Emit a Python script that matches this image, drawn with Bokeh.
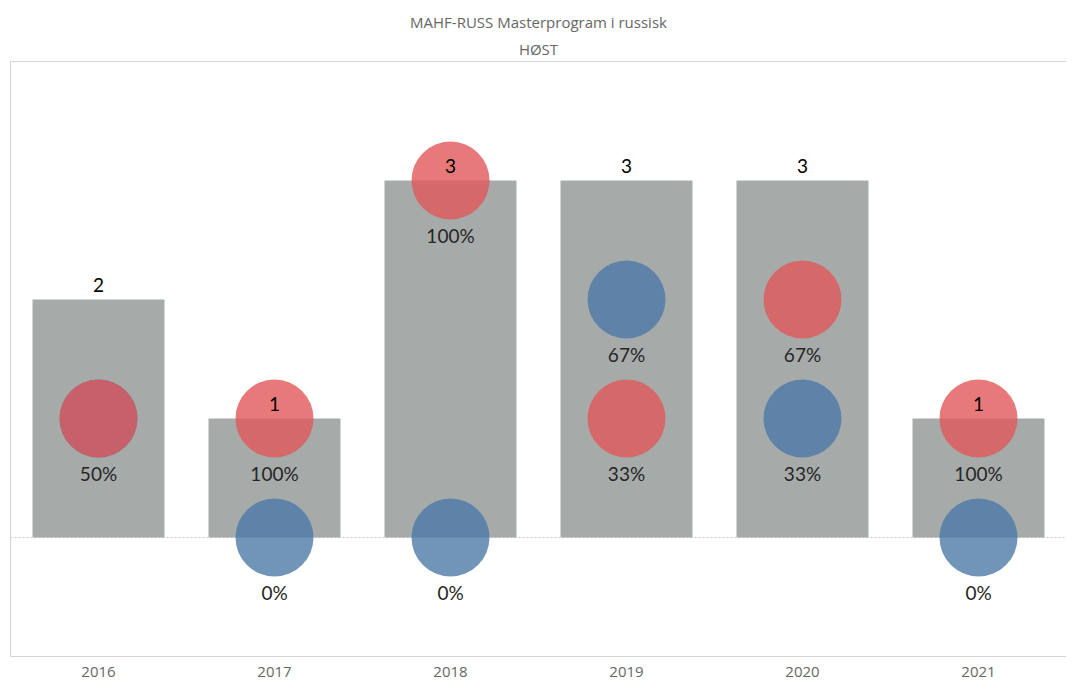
from bokeh.plotting import figure
from bokeh.models import Range1d, Title, LinearAxis, FixedTicker, ColumnDataSource
from bokeh.core.properties import value
from bokeh.embed import file_html
from bokeh.resources import INLINE

# ---- data ----
years = ["2016", "2017", "2018", "2019", "2020", "2021"]
totals = [2, 1, 3, 3, 3, 1]
red_counts = [1, 1, 3, 1, 2, 1]
blue_counts = [1, 0, 0, 2, 1, 0]
title_text = "MAHF-RUSS Masterprogram i russisk"
subtitle_text = "HØST"

red_pct = [f"{round(100 * r / t)}%" for r, t in zip(red_counts, totals)]
# a blue label that sits exactly on the red one is shown once
blue_pct = [("" if b == r else f"{round(100 * b / t)}%")
            for b, r, t in zip(blue_counts, red_counts, totals)]

# category slots: centre of slot i is i + 0.5
xs = [i + 0.5 for i in range(len(years))]

GREY = "#a6abaa"
RED = "#e15759"
BLUE = "#4e79a7"
TXT = "#262626"
NUMFONT = value("Lato")
LINE = "#d4d4d4"

p = figure(x_range=Range1d(0, len(years)), y_range=Range1d(-1, 4), width=1066, height=679,
           output_backend="svg", toolbar_location=None, title=None,
           min_border_left=10, min_border_right=0, min_border_top=61, min_border_bottom=0)
p.outline_line_color = None
p.background_fill_color = "white"
p.border_fill_color = "white"

# left frame line (axis with no ticks)
p.yaxis.visible = False
left = LinearAxis(ticker=FixedTicker(ticks=[]),
                  axis_line_color=LINE, major_tick_line_color=None,
                  minor_tick_line_color=None)
p.add_layout(left, "left")

p.xgrid.visible = False
p.ygrid.ticker = FixedTicker(ticks=[0])
p.ygrid.grid_line_color = "#c4c4c4"
p.ygrid.grid_line_dash = "2 2"

xa = p.xaxis[0]
xa.ticker = FixedTicker(ticks=xs)
xa.major_label_overrides = {x: y for x, y in zip(xs, years)}
xa.axis_line_color = LINE
xa.major_tick_line_color = None
xa.minor_tick_line_color = None
xa.major_label_text_font = "Open Sans"
xa.major_label_text_font_size = "15px"
xa.major_label_text_color = "#666666"
xa.major_label_standoff = 4

top = LinearAxis(ticker=FixedTicker(ticks=[]),
                 axis_line_color=LINE, major_tick_line_color=None,
                 minor_tick_line_color=None)
p.add_layout(top, "above")
p.add_layout(Title(text=subtitle_text, align="center", text_font="Open Sans",
                   text_font_size="15px", text_font_style="normal",
                   text_color="#666666", standoff=6), "above")
p.add_layout(Title(text=title_text, align="center", text_font="Open Sans",
                   text_font_size="15px", text_font_style="normal",
                   text_color="#666666", standoff=4), "above")

src = ColumnDataSource(dict(x=xs, total=totals, red=red_counts, blue=blue_counts,
                            rp=red_pct, bp=blue_pct,
                            tl=[str(t) for t in totals]))

p.vbar(x="x", top="total", bottom=0, width=0.75, source=src,
       fill_color=GREY, line_color=None)
p.scatter(x="x", y="blue", size=78, source=src, fill_color=BLUE,
          fill_alpha=0.8, line_color=None)
p.scatter(x="x", y="red", size=78, source=src, fill_color=RED,
          fill_alpha=0.8, line_color=None)

p.text(x="x", y="blue", text="bp", source=src, text_font=NUMFONT,
       text_font_size="19px", text_color=TXT, text_align="center",
       text_baseline="middle", y_offset=55)
p.text(x="x", y="red", text="rp", source=src, text_font=NUMFONT,
       text_font_size="19px", text_color=TXT, text_align="center",
       text_baseline="middle", y_offset=55)
p.text(x="x", y="total", text="tl", source=src, text_font=NUMFONT,
       text_font_size="19px", text_color="#000000", text_align="center",
       text_baseline="middle", y_offset=-15)

open("out.html", "w").write(file_html(p, INLINE))
